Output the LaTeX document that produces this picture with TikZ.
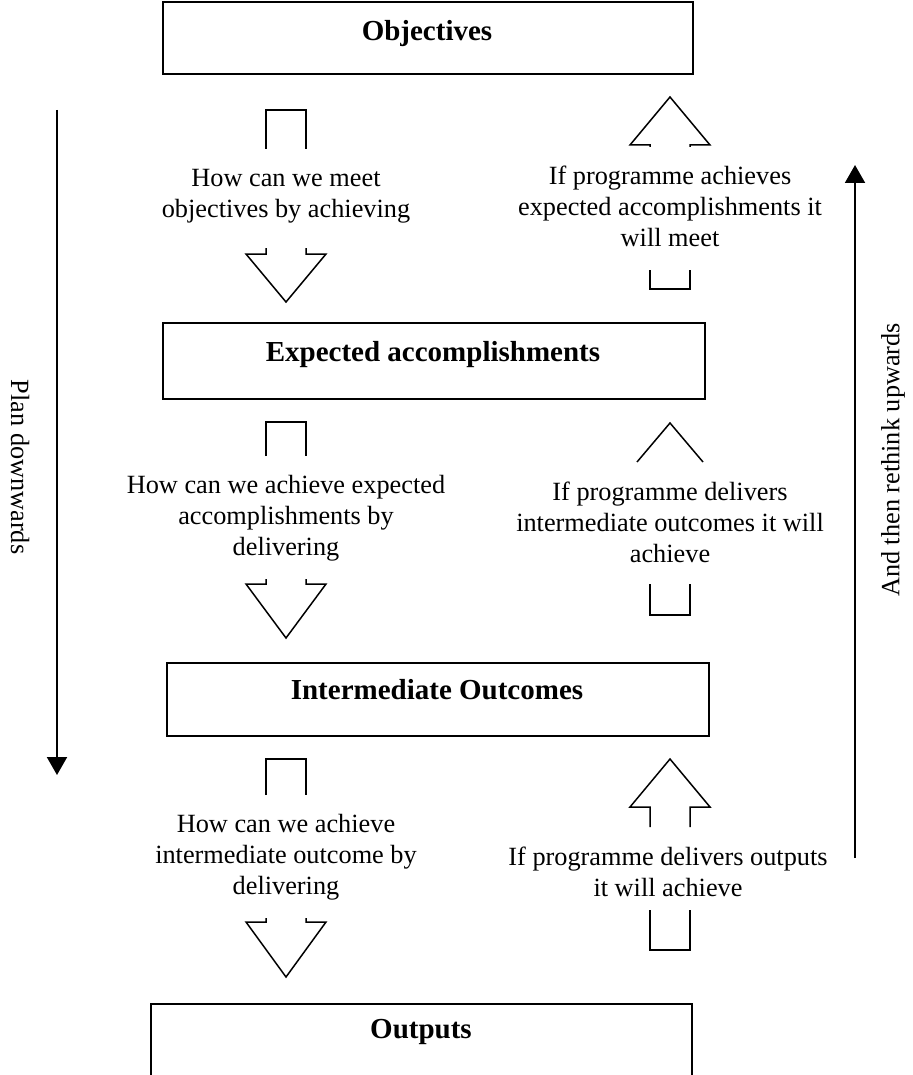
\documentclass[tikz,border=0pt]{standalone}
\usepackage{fontspec}
\setmainfont{Liberation Serif}
\usetikzlibrary{arrows.meta}
\tikzset{
  box/.style={draw, line width=1pt, rectangle, inner sep=0pt, anchor=north west},
  head/.style={font=\fontsize{14.5}{17}\selectfont\bfseries, inner sep=0pt},
  txt/.style={font=\fontsize{13.15}{15.5}\selectfont, align=center, inner sep=0pt},
  hollow/.style={line width=0.75pt, line join=miter},
  longarrow/.style={line width=1pt, -{Triangle[width=10pt,length=9pt]}},
  side/.style={font=\fontsize{13.15}{15.5}\selectfont, inner sep=0pt},
}
\begin{document}
\begin{tikzpicture}[x=0.5pt,y=-0.5pt]
\useasboundingbox (0,0) rectangle (912,1075);
\clip (0,0) rectangle (912,1075);

% boxes
\node[box, minimum width=265pt, minimum height=36pt] (objbox) at (162,1) {};
\node[head] (objtxt) at (427,34) {Objectives};
\node[box, minimum width=271pt, minimum height=38pt] (expbox) at (162,322) {};
\node[head] (exptxt) at (433,355) {Expected accomplishments};
\node[box, minimum width=271pt, minimum height=36.5pt] (intbox) at (166,662) {};
\node[head] (inttxt) at (437,690) {Intermediate Outcomes};
\node[box, minimum width=270.5pt, minimum height=50pt] (outbox) at (150,1003) {};
\node[head] (outtxt) at (421,1032) {Outputs};

% left (downward) hollow arrows
\draw[hollow] (266,149) -- (266,110) -- (306,110) -- (306,149);
\node[txt] (l1) at (286,196) {How can we meet\\objectives by achieving};
\draw[hollow] (266,248) -- (266,254) -- (246,254) -- (286,302) -- (326,254) -- (306,254) -- (306,248);

\draw[hollow] (266,456) -- (266,422) -- (306,422) -- (306,456);
\node[txt] (l2) at (286,518) {How can we achieve expected\\accomplishments by\\delivering};
\draw[hollow] (266,579) -- (266,584) -- (246,584) -- (286,638) -- (326,584) -- (306,584) -- (306,579);

\draw[hollow] (266,795) -- (266,759) -- (306,759) -- (306,795);
\node[txt] (l3) at (286,857) {How can we achieve\\intermediate outcome by\\delivering};
\draw[hollow] (266,918) -- (266,922) -- (246,922) -- (286,977) -- (326,922) -- (306,922) -- (306,918);

% right (upward) hollow arrows
\draw[hollow] (650,147) -- (650,145) -- (630,145) -- (670,97) -- (710,145) -- (690,145) -- (690,147);
\node[txt] (r1) at (670,206) {If programme achieves\\expected accomplishments it\\will meet};
\draw[hollow] (650,270) -- (650,289) -- (690,289) -- (690,270);

\draw[hollow] (637,462) -- (670,423) -- (703,462);
\node[txt] (r2) at (670,522) {If programme delivers\\intermediate outcomes it will\\achieve};
\draw[hollow] (650,584) -- (650,615) -- (690,615) -- (690,584);

\draw[hollow] (650,827) -- (650,807) -- (630,807) -- (670,759) -- (710,807) -- (690,807) -- (690,827);
\node[txt] (r3) at (668,872) {If programme delivers outputs\\it will achieve};
\draw[hollow] (650,910) -- (650,950) -- (690,950) -- (690,910);

% long side arrows
\coordinate (ltop) at (57,110);
\coordinate (lbot) at (57,775);
\draw[longarrow] (ltop) -- (lbot);
\node[side, rotate=-90] (plan) at (20,467) {Plan downwards};

\coordinate (rbot) at (855,858);
\coordinate (rtop) at (855,165);
\draw[longarrow] (rbot) -- (rtop);
\node[side, rotate=90] (rethink) at (893,460) {And then rethink upwards};
\end{tikzpicture}
\end{document}
